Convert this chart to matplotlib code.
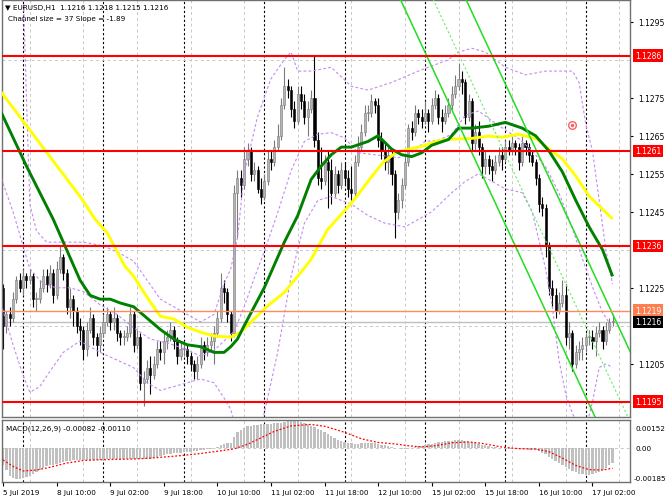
import numpy as np
import matplotlib
matplotlib.use("Agg")
import matplotlib.pyplot as plt
import matplotlib.transforms as mtransforms

plt.rcParams['font.family'] = ['DejaVu Sans']
plt.rcParams['font.size'] = 5

BASE = 1.1200   # prices below are stored as pips above this
PIP = 0.0001

# ================= data: EURUSD H1, 5 Jul 18:00 .. 17 Jul 08:00 =================
first_open = 25
close_pips = [
    15, 18, 17, 22, 27, 25, 28, 27, 28, 22,
    22, 25, 28, 26, 29, 23, 30, 33, 29, 20,
    22, 19, 15, 14, 9, 14, 17, 12, 10, 13,
    16, 18, 16, 17, 13, 12, 12, 13, 18, 10,
    12, 0, 1, 4, 2, 5, 9, 8, 11, 12,
    14, 11, 7, 9, 9, 7, 5, 3, 5, 10,
    8, 10, 11, 13, 17, 25, 24, 18, 13, 50,
    54, 52, 59, 61, 55, 56, 51, 49, 53, 59,
    58, 62, 65, 73, 78, 77, 72, 69, 76, 74,
    70, 72, 75, 64, 54, 53, 58, 56, 50, 55,
    52, 56, 54, 51, 50, 58, 62, 66, 71, 71,
    74, 73, 64, 61, 58, 60, 55, 45, 48, 52,
    58, 67, 66, 71, 70, 69, 71, 69, 73, 75,
    70, 69, 71, 73, 76, 78, 80, 79, 70, 74,
    63, 66, 62, 57, 59, 57, 56, 58, 60, 59,
    62, 61, 63, 62, 58, 63, 62, 60, 58, 54,
    47, 46, 36, 25, 23, 19, 21, 23, 12, 13,
    5, 8, 9, 10, 12, 12, 11, 13, 14, 11,
    14, 16, 16,
]
high_pips = [
    26, 19, 20, 24, 28, 29, 30, 29, 30, 29,
    24, 27, 30, 30, 31, 30, 32, 36, 34, 30,
    25, 23, 20, 17, 15, 16, 20, 18, 13, 15,
    18, 20, 19, 20, 18, 14, 14, 15, 20, 19,
    14, 13, 3, 6, 7, 7, 11, 11, 13, 14,
    16, 15, 12, 11, 11, 10, 8, 6, 7, 12,
    11, 12, 13, 15, 19, 29, 27, 25, 19, 52,
    56, 56, 62, 63, 62, 58, 57, 54, 55, 61,
    61, 64, 68, 75, 83, 80, 78, 74, 78, 78,
    76, 74, 77, 86, 66, 62, 60, 61, 59, 57,
    56, 58, 58, 56, 57, 60, 65, 68, 73, 73,
    76, 75, 75, 66, 63, 62, 61, 56, 50, 54,
    60, 68, 69, 73, 72, 72, 74, 72, 75, 77,
    76, 72, 73, 75, 78, 81, 84, 82, 80, 76,
    75, 68, 69, 63, 61, 60, 59, 60, 62, 62,
    64, 64, 65, 64, 63, 65, 64, 63, 61, 59,
    55, 49, 47, 37, 27, 25, 24, 27, 26, 16,
    14, 10, 11, 12, 13, 14, 14, 15, 16, 15,
    16, 17, 18,
]
low_pips = [
    9, 13, 15, 16, 21, 24, 23, 25, 26, 20,
    19, 21, 24, 24, 25, 21, 22, 29, 27, 18,
    17, 15, 13, 10, 6, 7, 13, 10, 7, 8,
    12, 15, 14, 14, 11, 10, 10, 11, 12, 8,
    9, -2, -6, 0, -3, 1, 4, 6, 5, 9,
    11, 9, 5, 6, 7, 5, 3, 1, 1, 4,
    6, 7, 8, 5, 12, 16, 21, 16, 11, 12,
    38, 49, 51, 57, 53, 53, 50, 47, 48, 52,
    56, 57, 61, 64, 72, 75, 70, 67, 68, 72,
    68, 65, 71, 62, 52, 51, 52, 46, 47, 49,
    50, 51, 52, 49, 48, 49, 57, 61, 65, 69,
    70, 71, 62, 59, 56, 55, 52, 38, 43, 46,
    51, 57, 64, 65, 68, 67, 68, 66, 68, 72,
    68, 66, 68, 70, 72, 75, 77, 76, 68, 69,
    61, 61, 60, 54, 55, 55, 53, 55, 57, 56,
    58, 60, 60, 60, 56, 57, 60, 58, 57, 52,
    45, 44, 33, 23, 20, 17, 18, 20, 10, 9,
    3, 4, 6, 6, 8, 10, 9, 7, 12, 9,
    10, 13, 15,
]

# moving averages (green / yellow) at sample bars
green_ma_bars = [-1, 7, 15, 18, 20, 23, 26, 29, 32, 35, 39, 43, 47, 51, 55, 59, 63, 66, 68, 70,
                 72, 78, 84, 88, 92, 95, 98, 101, 104, 109, 112, 116, 119, 122, 125, 128, 133,
                 136, 140, 145, 150, 155, 159, 163, 167, 171, 175, 179, 182]
green_ma_pips = [72, 57, 43, 37, 33, 27, 23, 22, 22, 21, 20, 17, 14, 11.5, 10, 9.5, 8, 8, 9.5, 11.5,
                 15, 25, 37, 44, 53.5, 57, 60, 62, 62, 63.5, 65, 61.5, 60, 59.5, 60.5, 62.5, 64,
                 67, 67, 67.5, 68.5, 67, 65, 61, 55.5, 48, 41, 35, 28]
yellow_ma_bars = [-1, 11, 23.6, 27.5, 31, 36.4, 39, 44, 47, 51, 55, 59, 63, 68, 71, 75, 79, 84,
                  89, 92, 97, 101.5, 105, 109.5, 113.5, 117.6, 121.5, 125.4, 129.6, 134, 140,
                  145, 149, 154, 159.4, 163, 167, 171, 175, 179, 182]
yellow_ma_pips = [77, 63, 48.3, 43, 39.6, 30.7, 28, 21.2, 17.5, 16.8, 14.6, 13.3, 12.3, 12, 13.3,
                  16.8, 20.2, 23.8, 29.1, 32.5, 40.4, 44.8, 48.3, 53.6, 58, 60.7, 61.5, 62.3,
                  63.6, 64.1, 64.3, 64.9, 64.6, 65.4, 64.1, 61.5, 58.9, 54.4, 49.1, 45.7, 43.1]

# bollinger bands (dotted lavender)
bb_up_bars = [-1, 3, 6, 7, 8, 10, 13, 18, 24, 30, 35, 39, 43, 47, 51, 55, 59, 63, 66, 68, 70,
              72, 76, 80, 84, 86, 88, 92, 98, 104, 109, 116, 124, 133, 136, 140, 144, 150, 156,
              162, 166, 170, 172, 174, 176, 178, 180, 182]
bb_up_pips = [140, 125, 104, 75, 47, 40, 37, 37, 37, 36, 34, 32, 27, 22, 20, 18, 16, 18, 26, 30, 38,
              55, 70, 80, 85, 87, 82, 82, 83, 78, 77, 79, 82, 85, 87, 88, 87, 83, 81,
              82, 82, 82, 79, 68, 61, 48, 35, 26]
bb_mid_bars = [-1, 3, 6, 8, 12, 16, 20, 24, 29, 34, 39, 44, 49, 54, 59, 63, 66, 69, 72, 75, 78,
               82, 86, 90, 94, 98, 102, 106, 110, 114, 118, 122, 126, 130, 134, 138, 142, 146,
               150, 154, 158, 162, 166, 170, 173, 176, 179, 182]
bb_mid_pips = [55, 45, 36, 30, 26, 25, 25, 24, 20.5, 18, 14.5, 11.5, 10.5, 9, 7, 8.5, 11, 13.5, 20,
               27.5, 34.5, 44.7, 55.8, 63.5, 65.4, 65.8, 64.4, 60.5, 60.1, 59.7, 59.2, 60.5, 63.5,
               63.8, 65.4, 70.4, 71.5, 68.9, 66.5, 64.2, 61, 56.9, 49.9, 40.6, 32.6, 25.2, 18.5, 14.4]
bb_lo_bars = [-1, 3, 6, 8, 11, 14, 18, 23, 29, 34, 39, 43, 47, 51, 55, 59, 63, 66, 68, 70, 72,
              75, 78, 82, 86, 90, 94, 98, 104, 109, 114, 120, 128, 134, 138, 142, 146, 150, 155,
              158, 162, 164, 166, 168, 170, 172, 174, 176, 178, 180, 182]
bb_lo_pips = [22, 10, 2, -2.5, -1, 3, 8, 11, 8, 6, 4, 0, -2, -1, 0, 1, 0, -4, -7, -14, -20,
              -18, -8, 8, 28, 42, 48, 49, 47, 44, 42, 41, 45, 50, 53, 55, 53, 51, 50,
              45, 30, 20, 6, -3, -8, -12, -12, -5, 4, 5, 4]

# regression channel: middle line end points, half width
chan_bars = [100, 190]
chan_mid = [1.13546, 1.11845]
chan_half = 0.00185

# horizontal levels
red_levels = [1.1286, 1.1261, 1.1236, 1.1195]
ask_level = 1.1219
bid_level = 1.1216
target_bar, target_price = 170, 1.12678

# MACD (x 1e-5)
macd_hist = [
    -90, -120, -150, -165, -170, -170, -165, -160, -150, -140,
    -130, -120, -110, -100, -95, -90, -85, -80, -75, -72,
    -70, -68, -66, -65, -64, -64, -63, -63, -64, -64,
    -63, -62, -62, -62, -61, -60, -60, -59, -58, -58,
    -58, -60, -62, -62, -60, -56, -50, -45, -40, -35,
    -32, -30, -28, -26, -24, -22, -20, -18, -15, -12,
    -10, -8, -5, -2, 5, 15, 22, 25, 27, 60,
    85, 100, 110, 118, 122, 125, 127, 128, 129, 130,
    131, 133, 135, 138, 142, 146, 150, 148, 145, 140,
    135, 128, 120, 112, 103, 95, 85, 75, 65, 55,
    45, 38, 32, 27, 25, 24, 24, 26, 27, 28,
    28, 26, 22, 18, 14, 10, 6, 2, -2, -5,
    -6, -4, -1, 3, 8, 12, 16, 20, 24, 28,
    31, 34, 36, 38, 40, 42, 42, 41, 38, 35,
    30, 26, 22, 18, 14, 10, 6, 3, 0, -2,
    -4, -5, -6, -7, -8, -8, -8, -9, -10, -12,
    -18, -25, -35, -48, -60, -72, -84, -95, -105, -115,
    -125, -133, -139, -143, -145, -145, -143, -138, -130, -120,
    -108, -95, -82,
]
signal_bars = [0, 3, 6, 10, 14, 19, 24, 29, 34, 39, 44, 49, 54, 59, 64, 69, 73, 77, 81, 86, 92,
               96, 99, 102, 107, 112, 117, 121, 125, 129, 134, 139, 143, 149, 154, 159, 163,
               167, 171, 175, 179, 182]
signal_vals = [-65, -100, -125, -120, -105, -82, -68, -64, -62, -60, -55, -48, -40, -30, -18, -5,
               20, 55, 90, 120, 128, 118, 102, 85, 50, 30, 22, 12, 6, 12, 28, 33, 25, 5, -4, -6,
               -20, -55, -95, -118, -120, -110]

time_ticks = [0, 16, 32, 48, 64, 80, 96, 112, 128, 144, 160, 176]
time_labels = ['5 Jul 2019', '8 Jul 10:00', '9 Jul 02:00', '9 Jul 18:00', '10 Jul 10:00',
               '11 Jul 02:00', '11 Jul 18:00', '12 Jul 10:00', '15 Jul 02:00', '15 Jul 18:00',
               '16 Jul 10:00', '17 Jul 02:00']
day_starts = [6, 30, 54, 78, 102, 126, 150, 174]
price_ticks = [1.1205, 1.1225, 1.1245, 1.1255, 1.1265, 1.1275, 1.1295]


def to_price(p):
    return BASE + np.asarray(p, dtype=float) * PIP


closes = to_price(close_pips)
highs = to_price(high_pips)
lows = to_price(low_pips)
opens = np.r_[to_price(first_open), closes[:-1]]
bars = np.arange(len(closes))

# ================= figure =================
W, H = 670, 502
fig = plt.figure(figsize=(W / 100, H / 100), dpi=100)
ax = fig.add_axes([2 / W, 1 - 418 / H, 628 / W, 417 / H])
ax2 = fig.add_axes([2 / W, 1 - 483 / H, 628 / W, 62 / H], sharex=ax)

grid_kw = dict(color='#c8c8c8', lw=0.7, ls=(0, (3, 3)), zorder=0)
for a in (ax, ax2):
    a.set_xticks(np.arange(0, 188, 8), minor=True)
    a.grid(which='minor', axis='x', **grid_kw)
    for d in day_starts:
        a.axvline(d, color='black', lw=0.8, ls=(0, (2, 2)), zorder=0.5)
    for s in a.spines.values():
        s.set_color('#707070')
        s.set_linewidth(1)

ax.set_yticks(np.arange(1.1195, 1.13, 0.001), minor=True)
ax.grid(which='minor', axis='y', **grid_kw)

# candles
bull = closes >= opens
face = np.where(bull, '#b4b4b4', '#000000')
edge = np.where(bull, '#7a7a7a', '#000000')
ax.vlines(bars, lows, highs, colors=edge, lw=0.8, zorder=2)
body_lo = np.minimum(opens, closes)
body_h = np.maximum(np.abs(closes - opens), 0.000025)
ax.bar(bars, body_h, bottom=body_lo, width=0.62, color=face, edgecolor=edge, lw=0.4, zorder=2.1)

# bollinger bands
bb_kw = dict(color='#c58af0', lw=0.8, ls=(0, (2.5, 2)), zorder=3)
ax.plot(bb_up_bars, to_price(bb_up_pips), **bb_kw)
ax.plot(bb_mid_bars, to_price(bb_mid_pips), **bb_kw)
ax.plot(bb_lo_bars, to_price(bb_lo_pips), **bb_kw)

# moving averages
ax.plot(yellow_ma_bars, to_price(yellow_ma_pips), color='#ffff00', lw=2.1, zorder=4,
        solid_capstyle='butt')
ax.plot(green_ma_bars, to_price(green_ma_pips), color='#008000', lw=2.1, zorder=4.1,
        solid_capstyle='butt')

# regression channel
cm = np.array(chan_mid)
ax.plot(chan_bars, cm + chan_half, color='#22dd22', lw=1.1, zorder=5)
ax.plot(chan_bars, cm - chan_half, color='#22dd22', lw=1.1, zorder=5)
ax.plot(chan_bars, cm, color='#66ee66', lw=0.8, ls=(0, (2, 2)), zorder=5)

# levels
for lv in red_levels:
    ax.axhline(lv, color='#ff0000', lw=1.5, zorder=6)
ax.axhline(ask_level, color='#ff8a5c', lw=1, zorder=6)
ax.axhline(bid_level, color='#c0c0c0', lw=1, zorder=1.5)

ax.plot([target_bar], [target_price], marker='o', ms=5.5, mfc='white', mec='#ff6060',
        mew=1, zorder=7)
ax.plot([target_bar], [target_price], marker='o', ms=1.5, color='#ff6060', zorder=7.1)

ax.set_xlim(-0.3, 187.2)
ax.set_ylim(1.11910, 1.13007)
ax.yaxis.tick_right()
ax.set_yticks(price_ticks)
ax.set_yticklabels([f'{p:.4f}' for p in price_ticks])
ax.tick_params(axis='y', which='major', length=2, pad=4, labelsize=5.5)
ax.tick_params(axis='y', which='minor', length=0)
ax.tick_params(axis='x', which='both', length=0, labelbottom=False)

trans = mtransforms.blended_transform_factory(ax.transAxes, ax.transData)
box = dict(boxstyle='square,pad=0.25', lw=0)
label_x = 1.008
for lv in red_levels:
    ax.text(label_x, lv, f'{lv:.4f}', transform=trans, va='center', ha='left', color='white',
            fontsize=5.5, bbox=dict(fc='#ff0000', **box), zorder=10, clip_on=False)
ax.text(label_x, ask_level, f'{ask_level:.4f}', transform=trans, va='center', ha='left',
        color='white', fontsize=5.5, bbox=dict(fc='#ff7f50', **box), clip_on=False)
ax.text(label_x, bid_level, f'{bid_level:.4f}', transform=trans, va='center', ha='left',
        color='white', fontsize=5.5, bbox=dict(fc='#000000', **box), clip_on=False)

# ================= MACD =================
hist = np.array(macd_hist) * 1e-5
ax2.bar(bars, hist, width=0.7, color='#c0c0c0', zorder=2)
ax2.plot(signal_bars, np.array(signal_vals) * 1e-5, color='#ff0000', lw=0.9,
         ls=(0, (1.5, 1.5)), zorder=3)
ax2.axhline(0, color='#c8c8c8', lw=0.7, ls=(0, (3, 3)), zorder=0)
ax2.set_ylim(-0.00185, 0.00152)
ax2.set_yticks([])
ax2.tick_params(axis='y', which='both', length=0, labelleft=False, labelright=False)
ax2.set_xticks(time_ticks)
ax2.set_xticklabels(time_labels, ha='left', fontsize=5.2)
ax2.tick_params(axis='x', which='major', length=3, pad=2, color='black')
ax2.tick_params(axis='x', which='minor', length=0)
trans2 = mtransforms.blended_transform_factory(ax2.transAxes, ax2.transData)
ax2.text(1.008, 0.87, '0.00152', transform=ax2.transAxes, va='center', ha='left', fontsize=5.2)
ax2.text(1.008, 0, '0.00', transform=trans2, va='center', ha='left', fontsize=5.2)
ax2.text(1.006, 0.07, '-0.00185', transform=ax2.transAxes, va='center', ha='left', fontsize=5.2)
ax2.text(0.006, 0.87, 'MACD(12,26,9) -0.00082 -0.00110', transform=ax2.transAxes,
         va='center', ha='left', fontsize=5.2)

# header texts
fig.text(5 / W, 1 - 8 / H, '\u25bc EURUSD,H1  1.1216 1.1218 1.1215 1.1216', va='center',
         ha='left', fontsize=5.2)
fig.text(8 / W, 1 - 19 / H, 'Channel size = 37 Slope = -1.89', va='center', ha='left',
         fontsize=5.2)

fig.savefig('out.png', dpi=100, facecolor='white')
